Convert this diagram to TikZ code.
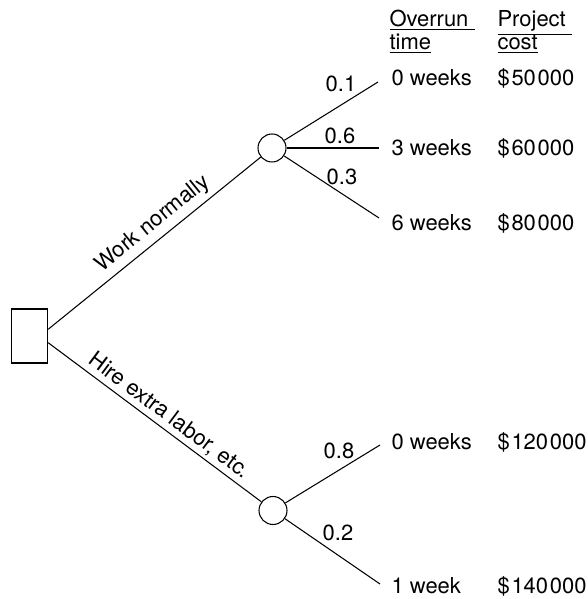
\documentclass[tikz,border=0pt]{standalone}
\usepackage{fontspec}
\setmainfont{TeX Gyre Heros}

\begin{document}
\begin{tikzpicture}[
    line width=0.6pt,
    every node/.style={font=\fontsize{12.5}{13.1}\selectfont},
    decision/.style={draw,minimum width=0.72cm,minimum height=1.08cm,inner sep=0pt},
    chance/.style={draw,circle,minimum size=0.56cm,inner sep=0pt},
    txt/.style={anchor=base west,inner sep=0pt},
    prob/.style={inner sep=0pt}]
    \useasboundingbox (0,0) rectangle (11.76,11.98);
    \node (decision) [decision] at (0.594,5.26) {};
    \node (chance_a) [chance] at (5.44,9.02) {};
    \node (chance_b) [chance] at (5.46,1.77) {};
    \coordinate (end_a1) at (7.56,10.34);
    \coordinate (end_a2) at (7.58,9.02);
    \coordinate (end_a3) at (7.58,7.62);
    \coordinate (end_b1) at (7.60,3.08);
    \coordinate (end_b2) at (7.60,0.30);
    \draw [-] (decision.20) to node [above,sloped,pos=0.54,inner sep=3pt] {Work normally} (chance_a);
    \draw [-] (decision.-20) to node [above,sloped,pos=0.53,inner sep=2pt] {Hire extra labor, etc.} (chance_b);
    \draw [-] (chance_a) to (end_a1);
    \draw [-] (chance_a) to (end_a2);
    \draw [-] (chance_a) to (end_a3);
    \draw [-] (chance_b) to (end_b1);
    \draw [-] (chance_b) to (end_b2);
    \node (p_a1) [prob] at (6.82,10.30) {0.1};
    \node (p_a2) [prob] at (6.80,9.27) {0.6};
    \node (p_a3) [prob] at (6.84,8.44) {0.3};
    \node (p_b1) [prob] at (6.78,2.96) {0.8};
    \node (p_b2) [prob] at (6.76,1.32) {0.2};
    \node (overrun_hd) [txt] at (7.78,11.44) {\underline{Overrun\ }};
    \node (time_hd) [txt] at (7.78,10.98) {\underline{time}};
    \node (project_hd) [txt] at (9.94,11.44) {\underline{Project\ }};
    \node (cost_hd) [txt] at (9.94,10.98) {\underline{cost}};
    \node (time_a1) [txt] at (7.82,10.26) {0 weeks};
    \node (time_a2) [txt] at (7.82,8.86) {3 weeks};
    \node (time_a3) [txt] at (7.82,7.36) {6 weeks};
    \node (time_b1) [txt] at (7.82,2.98) {0 weeks};
    \node (time_b2) [txt] at (7.82,0.10) {1 week};
    \node (cost_a1) [txt] at (9.94,10.26) {\$\kern1pt50\kern1pt000};
    \node (cost_a2) [txt] at (9.94,8.86) {\$\kern1pt60\kern1pt000};
    \node (cost_a3) [txt] at (9.94,7.36) {\$\kern1pt80\kern1pt000};
    \node (cost_b1) [txt] at (9.94,2.98) {\$\kern1pt120\kern1pt000};
    \node (cost_b2) [txt] at (9.94,0.10) {\$\kern1pt140\kern1pt000};
\end{tikzpicture}
\end{document}
